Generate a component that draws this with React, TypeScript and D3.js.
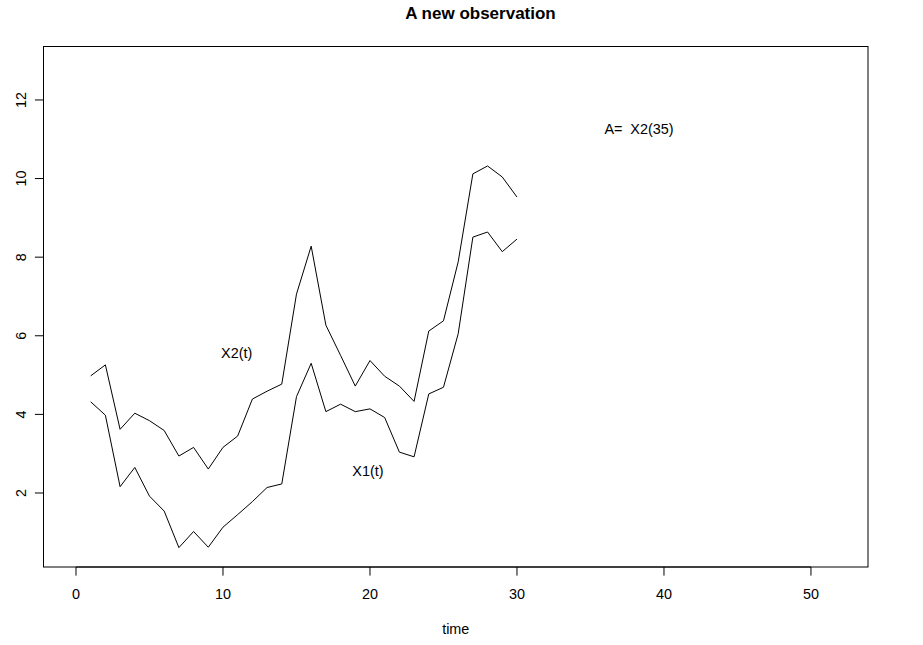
import React from "react";
import * as d3 from "d3";

const time = d3.range(1, 31);
const x1Values = [4.32, 3.98, 2.16, 2.65, 1.92, 1.54, 0.61, 1.02, 0.62, 1.13, 1.45, 1.78, 2.14, 2.23, 4.45, 5.3, 4.07, 4.26, 4.07, 4.14, 3.92, 3.04, 2.92, 4.52, 4.69, 6.05, 8.51, 8.64, 8.14, 8.46];
const x2Values = [4.98, 5.26, 3.62, 4.03, 3.84, 3.59, 2.94, 3.16, 2.61, 3.16, 3.45, 4.39, 4.59, 4.77, 7.06, 8.28, 6.27, 5.5, 4.72, 5.37, 4.97, 4.72, 4.33, 6.12, 6.38, 7.88, 10.12, 10.32, 10.04, 9.53];
const xTicks = [0, 10, 20, 30, 40, 50];
const yTicks = [2, 4, 6, 8, 10, 12];
const annotations = [
  { x: 10.93, y: 5.57, label: "X2(t)" },
  { x: 19.86, y: 2.57, label: "X1(t)" },
  { x: 38.3, y: 11.26, label: "A=  X2(35)" },
];

const W = 923;
const H = 645;
const left = 43.5;
const right = 868;
const top = 46.5;
const bottom = 567;
const FONT = "'Liberation Sans', Arial, Helvetica, sans-serif";
const FS = 14.4;

export default function App() {
  const x = d3.scaleLinear().domain([-2.21, 53.88]).range([left, right]);
  const y = d3.scaleLinear().domain([0.117, 13.36]).range([bottom, top]);
  const line = d3
    .line<number>()
    .x((_, i) => x(time[i]))
    .y((d) => y(d));

  return (
    <svg width={W} height={H} style={{ position: "absolute", left: 0, top: 0, background: "#fff" }}>
      <rect x={0} y={0} width={W} height={H} fill="#fff" />
      <text x={480.5} y={19} textAnchor="middle" fontFamily={FONT} fontWeight="bold" fontSize={17}>
        A new observation
      </text>
      <path d={line(x1Values) || ""} fill="none" stroke="#000" strokeWidth={1} />
      <path d={line(x2Values) || ""} fill="none" stroke="#000" strokeWidth={1} />
      {annotations.map((a) => (
        <text
          key={a.label}
          x={x(a.x)}
          y={y(a.y) + 5}
          textAnchor="middle"
          fontFamily={FONT}
          fontSize={FS}
          style={{ whiteSpace: "pre" }}
        >
          {a.label}
        </text>
      ))}
      <rect x={left} y={top} width={right - left} height={bottom - top} fill="none" stroke="#000" strokeWidth={1} />
      <line x1={x(xTicks[0])} x2={x(xTicks[xTicks.length - 1])} y1={bottom} y2={bottom} stroke="#000" />
      {xTicks.map((t) => (
        <g key={"xt" + t}>
          <line x1={x(t)} x2={x(t)} y1={bottom} y2={bottom + 8.6} stroke="#000" />
          <text x={x(t)} y={599} textAnchor="middle" fontFamily={FONT} fontSize={FS}>
            {t}
          </text>
        </g>
      ))}
      <line x1={left} x2={left} y1={y(yTicks[0])} y2={y(yTicks[yTicks.length - 1])} stroke="#000" />
      {yTicks.map((t) => (
        <g key={"yt" + t}>
          <line x1={left} x2={left - 8.6} y1={y(t)} y2={y(t)} stroke="#000" />
          <text
            x={26}
            y={y(t)}
            transform={`rotate(-90, 26, ${y(t)})`}
            textAnchor="middle"
            fontFamily={FONT}
            fontSize={FS}
          >
            {t}
          </text>
        </g>
      ))}
      <text x={(left + right) / 2} y={634} textAnchor="middle" fontFamily={FONT} fontSize={FS}>
        time
      </text>
    </svg>
  );
}
